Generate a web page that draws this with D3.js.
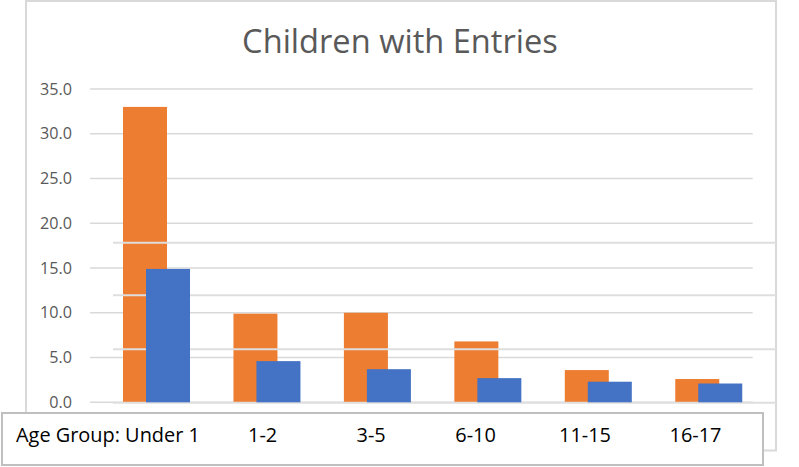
<!DOCTYPE html>
<html>
<head>
<meta charset="utf-8">
<script src="https://cdn.jsdelivr.net/npm/d3@7"></script>
<style>
  html, body { margin: 0; padding: 0; background: #fff; }
  svg { display: block; }
  text { font-family: "Open Sans", "Noto Sans", sans-serif; }
</style>
</head>
<body>
<svg id="chart" width="799" height="467"></svg>
<script>
// ---- data ----
const categories = ["Under 1", "1-2", "3-5", "6-10", "11-15", "16-17"];
const seriesA = [33.0, 9.9, 10.0, 6.8, 3.6, 2.6];   // orange
const seriesB = [14.9, 4.6, 3.7, 2.7, 2.3, 2.1];    // blue
const yTicks = [0, 5, 10, 15, 20, 25, 30, 35];
const title = "Children with Entries";
const axisPrefix = "Age Group: ";

// ---- layout ----
const W = 799, H = 467;
const plot = { left: 90, right: 752.7, top: 89, bottom: 402.3 };
const svg = d3.select("#chart");

const x = d3.scaleBand().domain(categories).range([plot.left, plot.right]).padding(0);
const y = d3.scaleLinear().domain([0, 35]).range([plot.bottom, plot.top]);

function fitText(sel, targetW) {
  const node = sel.node();
  const fs = parseFloat(sel.attr("font-size"));
  const w = node.getComputedTextLength();
  if (w > 0) sel.attr("font-size", fs * targetW / w);
  return sel;
}

// outer chart border
svg.append("rect")
  .attr("x", 26).attr("y", 1).attr("width", 750).attr("height", 449.5)
  .attr("fill", "#fff").attr("stroke", "#d9d9d9").attr("stroke-width", 2);

// title
fitText(svg.append("text")
  .attr("x", 400).attr("y", 52.5).attr("text-anchor", "middle")
  .attr("font-size", 30).attr("fill", "#595959").text(title), 316);

// gridlines
svg.append("g").selectAll("line").data(yTicks).join("line")
  .attr("x1", plot.left).attr("x2", plot.right)
  .attr("y1", d => y(d)).attr("y2", d => y(d))
  .attr("stroke", "#d9d9d9").attr("stroke-width", 1.5);

// y axis labels
const yAxis = d3.axisLeft(y).tickValues(yTicks).tickFormat(d3.format(".1f")).tickSize(0).tickPadding(0);
const gy = svg.append("g").attr("transform", "translate(72,0)").call(yAxis);
gy.select(".domain").remove();
gy.selectAll("text").attr("font-size", 15).attr("fill", "#595959")
  .attr("font-family", "'Open Sans', sans-serif");
// size the tick labels so "35.0" spans the same width as in the reference
{
  const top = gy.selectAll("text").filter(d => d === 35);
  const w = top.node().getComputedTextLength();
  const fs = 15 * 32 / w;
  gy.selectAll("text").attr("font-size", fs);
}

const bw = 44;
const offA = 33, offB = 56;

// orange bars
svg.append("g").selectAll("rect").data(seriesA).join("rect")
  .attr("x", (d, i) => x(categories[i]) + offA)
  .attr("width", bw)
  .attr("y", d => y(d))
  .attr("height", d => y(0) - y(d))
  .attr("fill", "#ED7D31");

// overlaid table-rule lines (artifact of the pasted picture)
const ruleYs = [242.7, 295.2, 349.3, 402.8];
svg.append("g").selectAll("line").data(ruleYs).join("line")
  .attr("x1", 113).attr("x2", 776)
  .attr("y1", d => d).attr("y2", d => d)
  .attr("stroke", "#dedede").attr("stroke-width", 2);

// blue bars
svg.append("g").selectAll("rect").data(seriesB).join("rect")
  .attr("x", (d, i) => x(categories[i]) + offB)
  .attr("width", bw)
  .attr("y", d => y(d))
  .attr("height", d => y(0) - y(d))
  .attr("fill", "#4472C4");

// category label box
svg.append("rect")
  .attr("x", 2).attr("y", 413).attr("width", 761).attr("height", 52)
  .attr("fill", "#fff").attr("stroke", "#bfbfbf").attr("stroke-width", 2);

const labelY = 442;
const first = svg.append("text")
  .attr("x", 16).attr("y", labelY).attr("font-size", 20).attr("fill", "#000")
  .text(axisPrefix + categories[0]);
fitText(first, 184);
const lfs = first.attr("font-size");

const labelShift = [0, 7, 5, -1, -2, -2];
svg.append("g").selectAll("text").data(categories.slice(1)).join("text")
  .attr("x", (d, i) => x(d) + x.bandwidth() / 2 + labelShift[i + 1])
  .attr("y", labelY)
  .attr("text-anchor", "middle")
  .attr("font-size", lfs)
  .attr("fill", "#000")
  .text(d => d);
</script>
</body>
</html>
